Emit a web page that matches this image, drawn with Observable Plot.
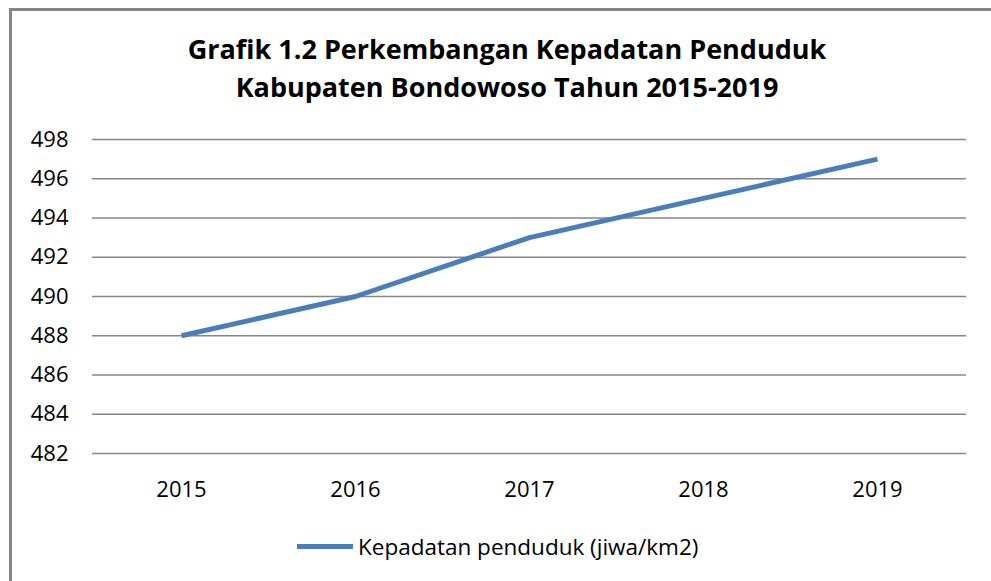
<!DOCTYPE html>
<html>
<head>
<meta charset="utf-8">
<script src="https://cdn.jsdelivr.net/npm/d3@7"></script>
<script src="https://cdn.jsdelivr.net/npm/@observablehq/plot@0.6"></script>
<style>
  html, body { margin: 0; padding: 0; background: #fff; }
  #frame { position: absolute; left: 9px; top: 8px; width: 990px; height: 600px;
           border: 3px solid #868686; box-sizing: border-box; }
  #title { position: absolute; left: 0; top: 30px; width: 1014px; text-align: center;
           font-family: "Open Sans", sans-serif; font-weight: bold; font-size: 27px;
           line-height: 38px; color: #000; }
  #chart { position: absolute; left: 0; top: 120px; }
  #legend { position: absolute; left: 297px; top: 531px; display: flex; align-items: center;
            font-family: "Open Sans", sans-serif; font-size: 22.5px; color: #000; }
  #legend .sw { width: 56px; height: 5px; background: #4a7ebb; margin-right: 5px; }
</style>
</head>
<body>
<div id="frame"></div>
<div id="title">Grafik 1.2 Perkembangan Kepadatan Penduduk<br>Kabupaten Bondowoso Tahun 2015-2019</div>
<div id="chart"></div>
<div id="legend"><span class="sw"></span><span>Kepadatan penduduk (jiwa/km2)</span></div>
<script>
const years = ["2015", "2016", "2017", "2018", "2019"];
const density = [488, 490, 493, 495, 497];
const yTicks = [482, 484, 486, 488, 490, 492, 494, 496, 498];

const data = years.map((y, i) => ({year: y, value: density[i]}));

const chart = Plot.plot({
  width: 991,
  height: 400,
  marginLeft: 92,
  marginRight: 25,
  marginTop: 19,
  marginBottom: 67,
  style: {fontFamily: "Open Sans, sans-serif", fontSize: "22px", color: "#000", background: "transparent"},
  x: {type: "point", domain: years, padding: 0.5, label: null, tickSize: 0, tickPadding: 28},
  y: {domain: [482, 498], ticks: yTicks, label: null, tickSize: 0, tickPadding: 24},
  marks: [
    Plot.ruleY(yTicks, {stroke: "#868686", strokeWidth: 1.5, strokeOpacity: 1}),
    Plot.axisY({ticks: yTicks, tickSize: 0, tickPadding: 24, label: null, fontSize: 22}),
    Plot.axisX({tickSize: 0, tickPadding: 28, label: null, fontSize: 22}),
    Plot.line(data, {x: "year", y: "value", stroke: "#4a7ebb", strokeWidth: 5, strokeLinecap: "butt"})
  ]
});
document.getElementById("chart").appendChild(chart);
</script>
</body>
</html>
